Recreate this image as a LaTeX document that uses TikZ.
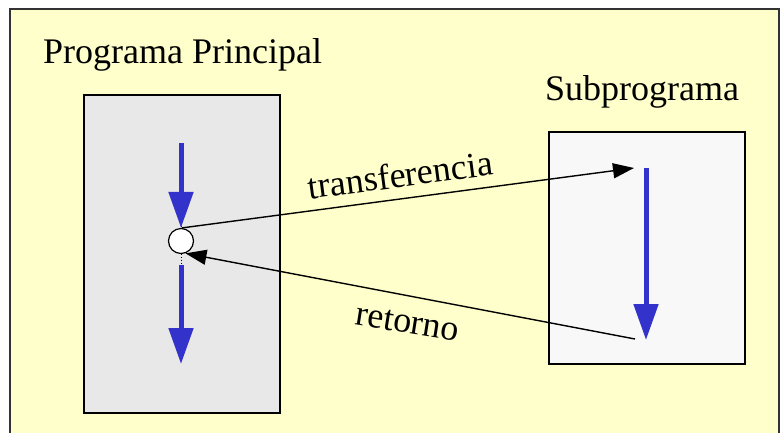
\documentclass[tikz,border=0pt]{standalone}
\usepackage{fontspec}
\setmainfont{Liberation Serif}
\usetikzlibrary{arrows.meta}
\definecolor{bgyellow}{HTML}{FFFFCC}
\definecolor{mainbox}{HTML}{E8E8E8}
\definecolor{subbox}{HTML}{F8F8F8}
\definecolor{flowblue}{HTML}{3333CC}
\tikzset{
  lbl/.style={inner sep=0pt, font=\fontsize{36}{40}\selectfont},
  panel/.style={draw=black, line width=2pt, inner sep=0pt},
  flow/.style={draw=flowblue, line width=5pt, -{Triangle[length=36pt,width=24pt]}},
  jump/.style={draw=black, line width=1.4pt, -{Triangle[length=21pt,width=15pt]}},
  guide/.style={draw=black, line width=0.8pt, dotted}
}
\begin{document}
\begin{tikzpicture}[x=1pt,y=-1pt]
\useasboundingbox (0,0) rectangle (781,432);
\fill[white] (0,0) rectangle (781,432);
\begin{scope}
\clip (0,0) rectangle (781,432);
\draw[fill=bgyellow, draw=black!80, line width=2pt] (10,9) rectangle (779,460);
\end{scope}
% boxes
\node[panel, fill=mainbox, minimum width=196pt, minimum height=318pt, anchor=north west] (main) at (83,94) {};
\node[panel, fill=subbox, minimum width=196pt, minimum height=232pt, anchor=north west] (sub) at (548,131) {};
% titles
\node[lbl, anchor=base west] (tmain) at (43,63) {Programa Principal};
\node[lbl, anchor=base west] (tsub) at (545,100) {Subprograma};
% call point
\node[circle, draw=black, fill=white, line width=1.2pt, minimum size=25pt, inner sep=0pt] (c) at (181,241) {};
% main flow
\coordinate (m1) at (181,143);
\coordinate (m1d) at (181,204);
\coordinate (m2) at (181,265);
\coordinate (m2e) at (181,364);
\draw[guide] (m1d) -- (c.north);
\draw[guide] (c.south) -- (m2);
\draw[flow] (m1) -- (c.north);
\draw[flow] (m2) -- (m2e);
% subprogram flow
\coordinate (s1) at (646,168);
\coordinate (s2) at (646,340);
\draw[flow] (s1) -- (s2);
% transfer and return
\coordinate (tEnd) at (634,168);
\coordinate (rStart) at (635,339);
\draw[jump] (c.north) ++(1,0) coordinate (cOut) -- (tEnd);
\draw[jump] (rStart) -- (c.-70);
% labels
\node[lbl, anchor=base, rotate=7.5] (ltr) at (402,187) {transferencia};
\node[lbl, anchor=base, rotate=-9] (lret) at (406,333) {retorno};
\end{tikzpicture}
\end{document}
